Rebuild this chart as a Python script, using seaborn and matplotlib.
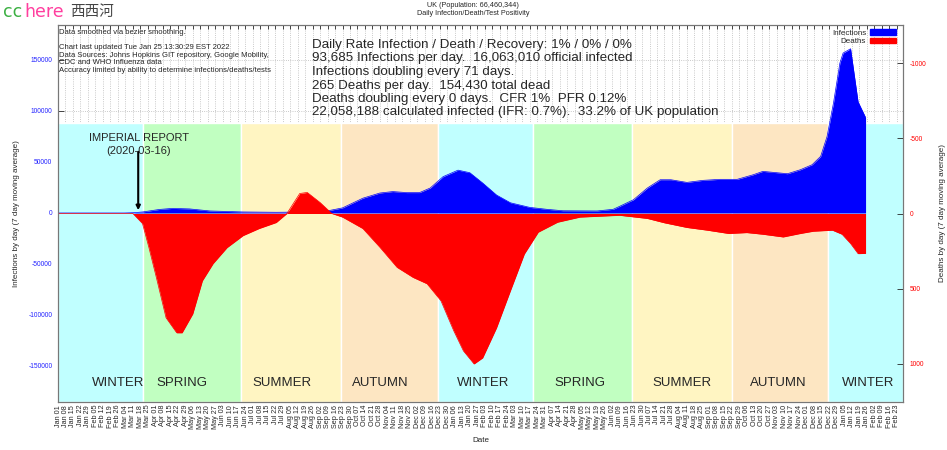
import matplotlib
matplotlib.use("Agg")
import matplotlib.pyplot as plt
import pandas as pd
import seaborn as sns
from matplotlib.patches import Patch

# ---------------------- DATOS ----------------------
inf_dates = ["2020-01-01", "2020-03-03", "2020-03-12", "2020-03-20", "2020-04-05", "2020-04-17",
             "2020-05-03", "2020-05-22", "2020-06-22", "2020-07-23", "2020-08-23", "2020-09-11",
             "2020-09-23", "2020-10-12", "2020-10-28", "2020-11-09", "2020-11-22", "2020-12-04",
             "2020-12-14", "2020-12-26", "2021-01-09", "2021-01-20", "2021-02-01", "2021-02-14",
             "2021-02-27", "2021-03-17", "2021-04-02", "2021-04-17", "2021-05-19", "2021-06-03",
             "2021-06-09", "2021-06-22", "2021-07-05", "2021-07-17", "2021-07-27", "2021-08-11",
             "2021-08-26", "2021-09-11", "2021-09-27", "2021-10-12", "2021-10-21", "2021-10-31",
             "2021-11-13", "2021-11-25", "2021-12-06", "2021-12-14", "2021-12-20", "2021-12-26",
             "2022-01-01", "2022-01-04", "2022-01-11", "2022-01-18", "2022-01-25"]
inf_values = [0, 0, 300, 1000, 3500, 4500,
              4000, 2000, 1000, 700, 1000, 2500,
              5000, 14500, 19600, 21000, 20000, 20000,
              24500, 35600, 42000, 39500, 29400, 17600,
              10000, 5500, 3600, 2200, 2000, 3600,
              6500, 13000, 24500, 32600, 32600, 30000,
              32000, 33000, 33000, 37500, 40800, 39800,
              38500, 42400, 47300, 55500, 75000, 107800,
              147000, 156800, 161000, 109000, 93685]

death_dates = ["2020-01-01", "2020-03-11", "2020-03-20", "2020-03-26", "2020-04-02", "2020-04-11",
               "2020-04-21", "2020-04-26", "2020-05-06", "2020-05-15", "2020-05-25", "2020-06-07",
               "2020-06-22", "2020-07-07", "2020-07-23", "2020-08-02", "2020-08-14", "2020-08-21",
               "2020-09-02", "2020-09-13", "2020-09-23", "2020-10-12", "2020-10-28", "2020-11-13",
               "2020-11-28", "2020-12-11", "2020-12-24", "2021-01-05", "2021-01-14", "2021-01-24",
               "2021-02-01", "2021-02-14", "2021-02-27", "2021-03-12", "2021-03-25", "2021-04-12",
               "2021-05-03", "2021-06-09", "2021-07-05", "2021-07-21", "2021-08-11", "2021-08-30",
               "2021-09-19", "2021-10-06", "2021-10-21", "2021-11-09", "2021-11-25", "2021-12-07",
               "2021-12-25", "2022-01-03", "2022-01-11", "2022-01-18", "2022-01-25"]
death_values = [0, 0, 67, 227, 427, 693,
                793, 793, 667, 447, 333, 227,
                147, 100, 60, 0, -133, -140,
                -73, 0, 24, 100, 225, 358,
                425, 467, 580, 780, 913, 1000,
                960, 760, 513, 269, 124, 58,
                24, 12, 33, 62, 93, 111,
                133, 127, 138, 156, 133, 118,
                111, 138, 200, 267, 265]

season_names = ["WINTER", "SPRING", "SUMMER", "AUTUMN", "WINTER",
                "SPRING", "SUMMER", "AUTUMN", "WINTER"]
season_starts = ["2020-01-01", "2020-03-20", "2020-06-20", "2020-09-22", "2020-12-21",
                 "2021-03-20", "2021-06-21", "2021-09-22", "2021-12-21"]
season_end = "2022-03-01"
season_label_dates = ["2020-02-26", "2020-04-26", "2020-07-28", "2020-10-28", "2021-02-01",
                      "2021-05-03", "2021-08-06", "2021-11-04", "2022-01-27"]
season_colors = {"WINTER": "#c0ffff", "SPRING": "#c1ffc1",
                 "SUMMER": "#fff5c2", "AUTUMN": "#fde6c2"}
season_top = 88000

notes_lines = ["Chart last updated Tue Jan 25 13:30:29 EST 2022",
               "Data Sources: Johns Hopkins GIT repository, Google Mobility,",
               "CDC and WHO Influenza data",
               "Accuracy limited by ability to determine infections/deaths/tests"]
info_lines = ["Daily Rate Infection / Death / Recovery: 1% / 0% / 0%",
              "93,685 Infections per day.  16,063,010 official infected",
              "Infections doubling every 71 days.",
              "265 Deaths per day.  154,430 total dead",
              "Deaths doubling every 0 days.  CFR 1%  PFR 0.12%",
              "22,058,188 calculated infected (IFR: 0.7%).  33.2% of UK population"]
# -----------------------------------------------------------------------

W, H = 947, 450


def px(x, y):
    return x / W, 1 - y / H


sns.set_style("white")
plt.rcParams["font.family"] = ["Liberation Sans", "Noto Sans CJK SC", "DejaVu Sans"]

fig = plt.figure(figsize=(W / 100, H / 100), dpi=100)
ax = fig.add_axes([58 / W, 1 - 402 / H, (903 - 58) / W, (402 - 25) / H])
ax2 = ax.twinx()

x0, x1 = pd.Timestamp("2020-01-01"), pd.Timestamp(season_end)
ax.set_xlim(x0, x1)
ax.set_ylim(-185300, 184300)
ax2.set_ylim(1253, -1253)

# Estaciones
ends = season_starts[1:] + [season_end]
for name, s, e in zip(season_names, season_starts, ends):
    ax.fill_between([pd.Timestamp(s), pd.Timestamp(e)], -185300, season_top,
                    color=season_colors[name], edgecolor="white", linewidth=1.0, zorder=1)
for name, d in zip(season_names, season_label_dates):
    ax.text(pd.Timestamp(d), -166600, name, ha="center", va="center",
            fontsize=9.5, zorder=3)

# Series
inf_x = pd.to_datetime(inf_dates)
death_x = pd.to_datetime(death_dates)
ax.fill_between(inf_x, 0, inf_values, color="#0000ff", linewidth=0, zorder=2)
sns.lineplot(x=inf_x, y=inf_values, ax=ax, color="#0000ff", linewidth=0.5, zorder=2)
ax2.fill_between(death_x, 0, death_values, color="#ff0000", linewidth=0, zorder=2)
sns.lineplot(x=death_x, y=death_values, ax=ax2, color="#ff0000", linewidth=0.5, zorder=2)

# Eje x
ticks = pd.date_range("2020-01-01", "2022-02-23", freq="7D")
ax.set_xticks(ticks)
ax.set_xticklabels([t.strftime("%b %d") for t in ticks], rotation=90, fontsize=5.2)
ax.set_xlabel("Date", fontsize=5.8, labelpad=6)
ax.tick_params(axis="x", direction="in", top=True, length=3, width=0.6, pad=2)

# Ejes y
ax.set_yticks(range(-150000, 150001, 50000))
ax.set_yticklabels([str(v) for v in range(-150000, 150001, 50000)])
ax.tick_params(axis="y", direction="in", length=4, width=0.6, labelsize=4.8,
               labelcolor="#2222ff", pad=4)
ax.set_ylabel("Infections by day (7 day moving average)", fontsize=5.8, labelpad=6)

ax2.set_yticks(range(-1000, 1001, 500))
ax2.set_yticklabels([str(v) for v in range(-1000, 1001, 500)])
ax2.tick_params(axis="y", direction="in", length=4, width=0.6, labelsize=4.8,
                labelcolor="#ff0000", pad=5)
ax2.set_ylabel("Deaths by day (7 day moving average)", fontsize=5.8, rotation=90, labelpad=9)

ax.grid(True, linestyle=":", color="#b8b8b8", linewidth=0.6)
ax.set_axisbelow(True)
for a in (ax, ax2):
    for sp in a.spines.values():
        sp.set_color("#777777")
        sp.set_linewidth(0.8)

# Leyenda
ax2.legend(handles=[Patch(color="#0000ff", label="Infections"),
                    Patch(color="#ff0000", label="Deaths")],
           loc="upper right", bbox_to_anchor=(1 - 7 / 845, 1 - 4 / 377),
           frameon=False, markerfirst=False, fontsize=5.8, handlelength=3.2,
           handleheight=0.7, labelspacing=0.15, borderpad=0, borderaxespad=0,
           handletextpad=0.5)

# Informe Imperial
ax.annotate("", xy=(pd.Timestamp("2020-03-16"), 0), xytext=(pd.Timestamp("2020-03-16"), 62700),
            arrowprops=dict(arrowstyle="-|>", color="black", lw=1.5, mutation_scale=6),
            zorder=4)
fig.text(*px(138.5, 138), "IMPERIAL REPORT", ha="center", va="center", fontsize=8)
fig.text(*px(138.5, 151), "(2020-03-16)", ha="center", va="center", fontsize=8)

# Textos
fig.text(*px(473, 5.5), "UK (Population: 66,460,344)", ha="center", va="center", fontsize=5.2)
fig.text(*px(473, 13.5), "Daily Infection/Death/Test Positivity", ha="center", va="center",
         fontsize=5.2)
fig.text(*px(3, 12), "cc", ha="left", va="center", fontsize=12.5, color="#3cb043",
         family="DejaVu Sans")
fig.text(*px(24, 12), "here", ha="left", va="center", fontsize=12.5, color="#ff3f9f",
         family="DejaVu Sans")
fig.text(*px(70, 12), "西西河", ha="left", va="center", fontsize=10.5, color="#444444",
         family=["Noto Sans CJK SC", "DejaVu Sans"])

fig.text(*px(59, 33), "Data smoothed via bezier smoothing.", ha="left", va="center", fontsize=5.5)
for i, line in enumerate(notes_lines):
    fig.text(*px(59, 47.5 + i * 7.6), line, ha="left", va="center", fontsize=5.5)
for i, line in enumerate(info_lines):
    fig.text(*px(312.5, 45 + i * 13.5), line, ha="left", va="center", fontsize=9.6)

fig.savefig("out.png", dpi=100)
